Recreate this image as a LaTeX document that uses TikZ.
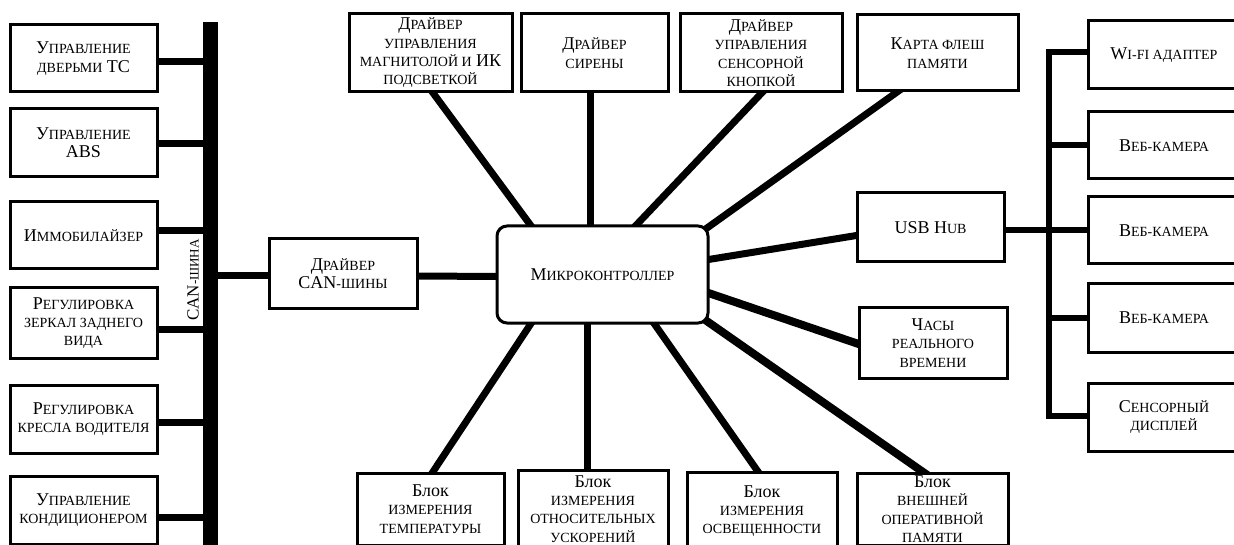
\documentclass[tikz,border=0pt]{standalone}
\usepackage{fontspec}
\setmainfont{Liberation Serif}
\usetikzlibrary{backgrounds}
\newcommand\smc[1]{{\fontsize{14}{18.3}\selectfont #1}}
\begin{document}
\begin{tikzpicture}[x=1pt,y=-1pt,
  box/.style={draw, line width=3pt, fill=white, inner sep=1pt, align=center,
    font=\fontsize{18}{18.3}\selectfont},
  link/.style={line width=7pt},
  thin link/.style={line width=6pt}]
\useasboundingbox (0,0) rectangle (1234,545);
\clip (0,0) rectangle (1234,545);

% left column
\node[box, minimum width=147, minimum height=67] (L1) at (83.5,58.5) {У\smc{ПРАВЛЕНИЕ}\\\smc{ДВЕРЬМИ} ТС};
\node[box, minimum width=147, minimum height=68] (L2) at (83.5,143) {У\smc{ПРАВЛЕНИЕ}\\ABS};
\node[box, minimum width=147, minimum height=67] (L3) at (83.5,235.5) {И\smc{ММОБИЛАЙЗЕР}};
\node[box, minimum width=147, minimum height=70] (L4) at (83.5,323) {Р\smc{ЕГУЛИРОВКА}\\\smc{ЗЕРКАЛ ЗАДНЕГО}\\\smc{ВИДА}};
\node[box, minimum width=147, minimum height=68] (L5) at (83.5,419) {Р\smc{ЕГУЛИРОВКА}\\\smc{КРЕСЛА ВОДИТЕЛЯ}};
\node[box, minimum width=147, minimum height=68] (L6) at (83.5,510) {У\smc{ПРАВЛЕНИЕ}\\\smc{КОНДИЦИОНЕРОМ}};

% CAN bus
\node[fill=black, minimum width=15, minimum height=530, inner sep=0] (can) at (210.5,287) {};
\node[rotate=90, inner sep=0, font=\fontsize{17}{18}\selectfont] (canlbl) at (193,280) {CAN{\fontsize{13}{18}\selectfont -ШИНА}};

% CAN driver and MCU
\node[box, minimum width=148, minimum height=70] (drv) at (343,274) {Д\smc{РАЙВЕР}\\CAN\smc{-ШИНЫ}};
\node[box, rounded corners=10pt, minimum width=211, minimum height=97] (mc) at (602.5,274.5) {М\smc{ИКРОКОНТРОЛЛЕР}};

% top row
\node[box, minimum width=163, minimum height=78] (T1) at (430.5,53) {Д\smc{РАЙВЕР}\\\smc{УПРАВЛЕНИЯ}\\\smc{МАГНИТОЛОЙ И} ИК\\\smc{ПОДСВЕТКОЙ}};
\node[box, minimum width=147, minimum height=78] (T2) at (594.5,53) {Д\smc{РАЙВЕР}\\\smc{СИРЕНЫ}};
\node[box, minimum width=162, minimum height=78] (T3) at (761,53) {Д\smc{РАЙВЕР}\\\smc{УПРАВЛЕНИЯ}\\\smc{СЕНСОРНОЙ}\\\smc{КНОПКОЙ}};
\node[box, minimum width=161, minimum height=76] (T4) at (937.5,53) {К\smc{АРТА ФЛЕШ}\\\smc{ПАМЯТИ}};

% bottom row
\node[box, minimum width=147, minimum height=72] (B1) at (430.5,509) {Блок\\\smc{ИЗМЕРЕНИЯ}\\\smc{ТЕМПЕРАТУРЫ}};
\node[box, minimum width=150, minimum height=78] (B2) at (593,509) {Блок\\\smc{ИЗМЕРЕНИЯ}\\\smc{ОТНОСИТЕЛЬНЫХ}\\\smc{УСКОРЕНИЙ}};
\node[box, minimum width=150, minimum height=78] (B3) at (762,511) {Блок\\\smc{ИЗМЕРЕНИЯ}\\\smc{ОСВЕЩЕННОСТИ}};
\node[box, minimum width=151, minimum height=72] (B4) at (932.5,509) {Блок\\\smc{ВНЕШНЕЙ}\\\smc{ОПЕРАТИВНОЙ}\\\smc{ПАМЯТИ}};

% right of MCU
\node[box, minimum width=147, minimum height=69] (usb) at (930.5,227.5) {USB H\smc{UB}};
\node[box, minimum width=148, minimum height=70] (rtc) at (933,343) {Ч\smc{АСЫ}\\\smc{РЕАЛЬНОГО}\\\smc{ВРЕМЕНИ}};

% right column
\node[box, minimum width=152, minimum height=68] (R1) at (1164,55) {W\smc{I-FI АДАПТЕР}};
\node[box, minimum width=152, minimum height=67] (R2) at (1164,145.5) {В\smc{ЕБ-КАМЕРА}};
\node[box, minimum width=152, minimum height=67] (R3) at (1164,230.5) {В\smc{ЕБ-КАМЕРА}};
\node[box, minimum width=152, minimum height=68] (R4) at (1164,318) {В\smc{ЕБ-КАМЕРА}};
\node[box, minimum width=152, minimum height=68] (R5) at (1164,417) {С\smc{ЕНСОРНЫЙ}\\\smc{ДИСПЛЕЙ}};
\coordinate (rbx) at (1049,0);

\begin{pgfonlayer}{background}
  % left bus connectors
  \foreach \n/\d in {L1/3.5,L2/1,L3/-4.5,L4/6,L5/3,L6/7}
    \draw[link] ([shift={(-2,\d)}]\n.east) -- ([yshift=-\d pt]\n.east -| can.center);
  \draw[link] ([yshift=-2pt]drv.west -| can.center) -- ([shift={(2,2)}]drv.west);
  \draw[link] ([shift={(-2,2)}]drv.east) -- ([shift={(2,2)}]mc.west);
  % top
  \draw[link] ([shift={(0,-4)}]T1.south) -- ([shift={(-69.5,4)}]mc.north);
  \draw[link] ([shift={(-4.5,-4)}]T2.south) -- ([shift={(-12.5,4)}]mc.north);
  \draw[link] ([shift={(4,-4)}]T3.south) -- ([shift={(30.5,4)}]mc.north);
  \draw[link] ([shift={(-35.5,-4)}]T4.south) -- ([shift={(-6,6)}]mc.north east);
  % bottom
  \draw[link] ([shift={(0,4)}]B1.north) -- ([shift={(-69.5,-4)}]mc.south);
  \draw[link] ([shift={(-6,4)}]B2.north) -- ([shift={(-15.5,-4)}]mc.south);
  \draw[link] ([shift={(-2,4)}]B3.north) -- ([shift={(49.5,-4)}]mc.south);
  \draw[link, line width=8pt] ([shift={(-4.5,4)}]B4.north) -- ([shift={(-5,-5)}]mc.south east);
  % right of MCU
  \draw[link] ([shift={(-4,-14.5)}]mc.east) -- ([shift={(4,7.5)}]usb.west);
  \draw[link, line width=8pt] ([shift={(-4,17.5)}]mc.east) -- ([shift={(4,2)}]rtc.west);
  \draw[thin link] ([shift={(-2,2.5)}]usb.east) -- ([yshift=-2.5pt]usb.east -| rbx);
  % right bus
  \draw[thin link, line join=miter] ([shift={(2,-3)}]R1.west) -- ([yshift=3pt]R1.west -| rbx) |- ([shift={(2,-1)}]R5.west);
  \foreach \n in {R2,R3,R4}
    \draw[thin link] ([xshift=2pt]\n.west) -- (\n.west -| rbx);
\end{pgfonlayer}
\end{tikzpicture}
\end{document}
